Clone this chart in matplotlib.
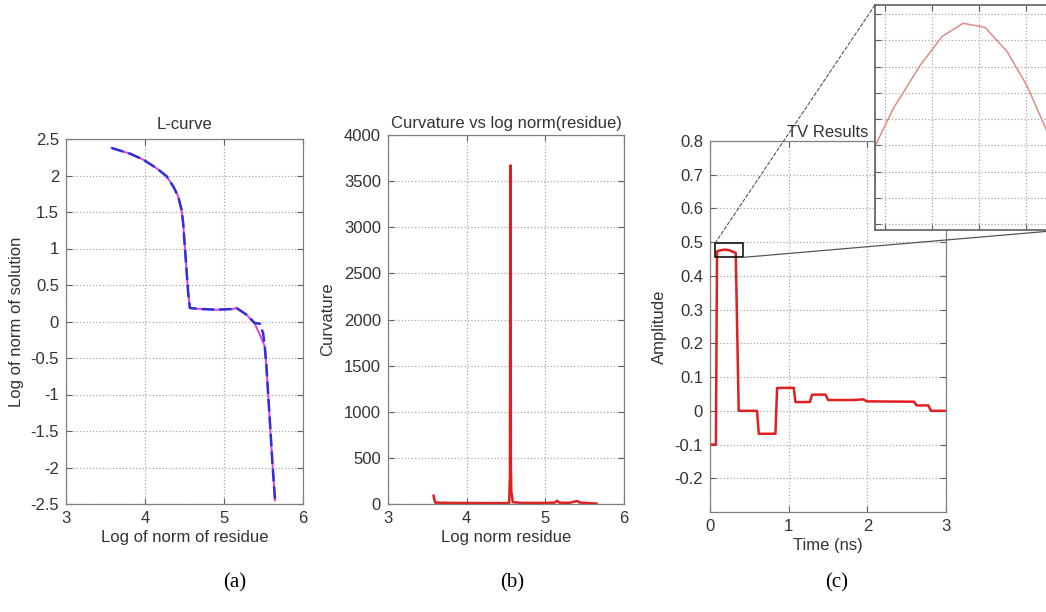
import matplotlib
matplotlib.use('Agg')
import matplotlib.pyplot as plt
from matplotlib.patches import Rectangle, ConnectionPatch
from matplotlib.ticker import MultipleLocator

plt.rcParams['font.family'] = ['Liberation Sans', 'DejaVu Sans']
plt.rcParams['font.size'] = 12
plt.rcParams['axes.titlesize'] = 12

# (a) L-curve
res_blue = [3.577, 3.809, 3.978, 4.146, 4.273, 4.357, 4.42, 4.462, 4.483, 4.504, 4.525, 4.547, 4.568,
            4.694, 4.905, 5.115, 5.158, 5.284, 5.389, 5.453, 5.495, 5.516, 5.537, 5.558, 5.587, 5.613, 5.646]
sol_blue = [2.377, 2.30, 2.217, 2.10, 1.99, 1.852, 1.715, 1.532, 1.349, 1.03, 0.71, 0.39, 0.185,
            0.171, 0.162, 0.171, 0.185, 0.094, -0.021, -0.03, -0.158, -0.34, -0.614, -0.98, -1.48, -1.94, -2.45]
res_mag = [3.577, 3.809, 3.978, 4.146, 4.273, 4.357, 4.42, 4.462, 4.483, 4.504, 4.525, 4.547, 4.568,
           4.694, 4.905, 5.115, 5.158, 5.284, 5.389, 5.45, 5.516, 5.537, 5.558, 5.587, 5.613, 5.646]
sol_mag = [2.377, 2.30, 2.217, 2.10, 1.99, 1.852, 1.715, 1.532, 1.349, 1.03, 0.71, 0.39, 0.185,
           0.171, 0.162, 0.171, 0.185, 0.094, -0.03, -0.17, -0.34, -0.614, -0.98, -1.48, -1.94, -2.45]

# (b) curvature
res_b = [3.58, 3.585, 3.60, 3.8, 4.2, 4.54, 4.550, 4.557, 4.562, 4.568, 4.575, 4.585,
         4.7, 5.0, 5.12, 5.15, 5.18, 5.3, 5.37, 5.39, 5.41, 5.44, 5.55, 5.65]
curv_b = [90, 60, 15, 12, 10, 10, 300, 3670, 400, 120, 100, 20,
          12, 12, 15, 35, 15, 12, 25, 30, 30, 15, 10, 5]

# (c) TV result
t_ns = [0, 0.075, 0.0894, 0.1085, 0.1373, 0.1607, 0.1830, 0.2064, 0.2298, 0.2511, 0.2713, 0.295, 0.327,
        0.365, 0.598, 0.62, 0.832, 0.853, 1.065, 1.086, 1.269, 1.298, 1.468, 1.502, 1.82, 1.95, 1.99,
        2.593, 2.627, 2.775, 2.81, 3.0]
amp = [-0.1, -0.1, 0.47296, 0.47438, 0.47604, 0.47715, 0.47765, 0.47750, 0.47658, 0.47527, 0.47362, 0.4712, 0.468,
       0.0, 0.0, -0.068, -0.068, 0.068, 0.068, 0.026, 0.026, 0.048, 0.048, 0.032, 0.032, 0.034, 0.028,
       0.027, 0.016, 0.016, 0.0, 0.0]

# zoom box shown in (c)
box_t = (0.064, 0.42)
box_a = (0.455, 0.497)

W, H = 1046, 612
fig = plt.figure(figsize=(W / 100, H / 100), dpi=100)


def px_axes(l, t, r, b):
    return fig.add_axes([l / W, 1 - b / H, (r - l) / W, (b - t) / H])


def matlab_style(ax):
    for s in ax.spines.values():
        s.set_color('#808080')
        s.set_linewidth(0.9)
    ax.tick_params(direction='in', length=4, width=0.8, color='#606060',
                   top=True, right=True, labelcolor='#333333', pad=5)
    ax.grid(True, linestyle=':', color='#a8a8a8', linewidth=0.9)
    ax.set_axisbelow(True)


ax1 = px_axes(66, 139, 303, 504)
matlab_style(ax1)
ax1.plot(res_mag, sol_mag, color='#e040e0', lw=1.4)
ax1.plot(res_blue, sol_blue, color='#3030d8', lw=1.8, ls=(0, (5, 2)))
ax1.set_xlim(3, 6)
ax1.set_ylim(-2.5, 2.5)
ax1.xaxis.set_major_locator(MultipleLocator(1))
ax1.yaxis.set_major_locator(MultipleLocator(0.5))
ax1.yaxis.set_major_formatter(plt.FuncFormatter(lambda v, p: f'{v:g}'))
ax1.set_title('L-curve', pad=7, color='#333333')
ax1.set_xlabel('Log of norm of residue', color='#333333', labelpad=3)
ax1.set_ylabel('Log of norm of solution', color='#333333')
ax1.yaxis.set_label_coords(-0.177, 0.5)

ax2 = px_axes(388, 135, 624, 504)
matlab_style(ax2)
ax2.plot(res_b, curv_b, color='#e02020', lw=1.8)
ax2.set_xlim(3, 6)
ax2.set_ylim(0, 4000)
ax2.xaxis.set_major_locator(MultipleLocator(1))
ax2.yaxis.set_major_locator(MultipleLocator(500))
ax2.set_title('Curvature vs log norm(residue)', pad=5, color='#333333')
ax2.set_xlabel('Log norm residue', color='#333333', labelpad=3)
ax2.set_ylabel('Curvature', color='#333333')
ax2.yaxis.set_label_coords(-0.225, 0.5)

ax3 = px_axes(710, 141, 946, 512)
matlab_style(ax3)
ax3.plot(t_ns, amp, color='#e02020', lw=1.8)
ax3.set_xlim(0, 3)
ax3.set_ylim(-0.3, 0.8)
ax3.set_xticks([0, 1, 2, 3])
ax3.set_yticks([-0.2, -0.1, 0, 0.1, 0.2, 0.3, 0.4, 0.5, 0.6, 0.7, 0.8])
ax3.yaxis.set_major_formatter(plt.FuncFormatter(lambda v, p: f'{v:g}'))
ax3.set_title('TV Results', pad=3, color='#333333')
ax3.set_xlabel('Time (ns)', color='#333333', labelpad=3)
ax3.set_ylabel('Amplitude', color='#333333')
ax3.yaxis.set_label_coords(-0.182, 0.5)
ax3.add_patch(Rectangle((box_t[0], box_a[0]), box_t[1] - box_t[0], box_a[1] - box_a[0],
                        fill=False, edgecolor='black', lw=1.1, zorder=5))

# zoomed inset
axi = px_axes(875, 5, 1063, 230)
axi.set_facecolor('white')
matlab_style(axi)
axi.plot(t_ns, amp, color='#e08a8a', lw=1.1)
axi.set_xlim(0.0894, 0.2894)
axi.set_ylim(0.46977, 0.47835)
axi.xaxis.set_major_locator(MultipleLocator(0.05))
axi.yaxis.set_major_locator(MultipleLocator(0.001))
axi.tick_params(labelleft=False, labelbottom=False)
for sp in axi.spines.values():
    sp.set_color('#606060')
    sp.set_linewidth(1.2)

con1 = ConnectionPatch(xyA=(box_t[0], box_a[1]), coordsA='data', axesA=ax3,
                       xyB=(0, 1), coordsB='axes fraction', axesB=axi,
                       color='#555555', lw=0.8, ls=(0, (3, 2)))
con2 = ConnectionPatch(xyA=(box_t[1], box_a[0]), coordsA='data', axesA=ax3,
                       xyB=(1, 0), coordsB='axes fraction', axesB=axi,
                       color='#555555', lw=0.9, ls='-')
fig.add_artist(con1)
fig.add_artist(con2)

for lbl, x in [('(a)', 235), ('(b)', 512), ('(c)', 837)]:
    fig.text(x / W, 1 - 583 / H, lbl, ha='center', va='center', fontsize=15,
             family=['Liberation Serif', 'DejaVu Serif'])

fig.savefig('out.png', dpi=100)
